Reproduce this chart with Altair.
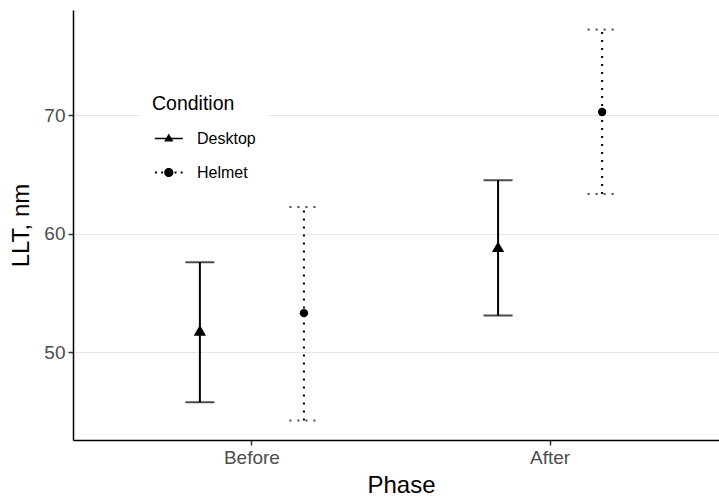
import altair as alt
import pandas as pd

phase = ["Before", "Before", "After", "After"]
condition = ["Desktop", "Helmet", "Desktop", "Helmet"]
mean = [51.85, 53.3, 58.9, 70.25]
lower = [45.8, 44.25, 53.1, 63.35]
upper = [57.6, 62.25, 64.5, 77.2]

phase_order = ["Before", "After"]
cond_order = ["Desktop", "Helmet"]
y_ticks = [50, 60, 70]

df = pd.DataFrame({"Phase": phase, "Condition": condition,
                   "mean": mean, "lower": lower, "upper": upper})

FONT = "Liberation Sans"

x_enc = alt.X("Phase:N", sort=phase_order,
              scale=alt.Scale(range=[0, 656], paddingInner=0, paddingOuter=0.1),
              axis=alt.Axis(title="Phase", labelAngle=0, grid=False))
xo_enc = alt.XOffset("Condition:N", sort=cond_order,
                     scale=alt.Scale(paddingInner=0, paddingOuter=0.433))
y_scale = alt.Scale(domain=[42.61, 78.85], nice=False, zero=False)

dash = alt.StrokeDash("Condition:N", sort=cond_order,
                      scale=alt.Scale(domain=cond_order, range=[[1, 0], [2, 6]]),
                      legend=None)

base = alt.Chart(df)

rules = base.mark_rule(color="black", strokeWidth=2).encode(
    x=x_enc, xOffset=xo_enc,
    y=alt.Y("lower:Q", scale=y_scale,
            axis=alt.Axis(title="LLT, nm", values=y_ticks, grid=True)),
    y2="upper:Q",
    strokeDash=dash,
)

caps_lo = base.mark_tick(color="black", filled=False, thickness=0, size=29,
                         strokeWidth=2).encode(
    x=x_enc, xOffset=xo_enc, y=alt.Y("lower:Q", scale=y_scale), strokeDash=dash)
caps_hi = base.mark_tick(color="black", filled=False, thickness=0, size=29,
                         strokeWidth=2).encode(
    x=x_enc, xOffset=xo_enc, y=alt.Y("upper:Q", scale=y_scale), strokeDash=dash)

points = base.mark_point(filled=True, color="black", opacity=1).encode(
    x=x_enc, xOffset=xo_enc, y=alt.Y("mean:Q", scale=y_scale),
    shape=alt.Shape("Condition:N", sort=cond_order,
                    scale=alt.Scale(domain=cond_order, range=["triangle-up", "circle"]),
                    legend=None),
    size=alt.Size("Condition:N", sort=cond_order,
                  scale=alt.Scale(domain=cond_order, range=[150, 70]), legend=None),
)

desk_sym = ("M-0.8,-0.06H1.2V0.06H-0.8Z "
            "M0.2,-0.36L0.53,0.22L-0.13,0.22Z")
helm_sym = ("M-0.79,-0.07H-0.65V0.07H-0.79Z "
            "M-0.35,-0.07H-0.21V0.07H-0.35Z "
            "M0.61,-0.07H0.75V0.07H0.61Z "
            "M1.05,-0.07H1.19V0.07H1.05Z "
            "M0.53,0A0.33,0.33 0 1,1 -0.13,0A0.33,0.33 0 1,1 0.53,0Z")

legend_src = base.mark_point(filled=True, color="black", opacity=0, size=784).encode(
    x=x_enc, xOffset=xo_enc, y=alt.Y("mean:Q", scale=y_scale),
    shape=alt.Shape("Condition:N", sort=cond_order,
                    scale=alt.Scale(domain=cond_order, range=[desk_sym, helm_sym]),
                    legend=alt.Legend(title="Condition", orient="none",
                                      legendX=67, legendY=73,
                                      fillColor="white", padding=12,
                                      symbolSize=784, symbolOpacity=1,
                                      symbolFillColor="black", symbolStrokeWidth=0,
                                      symbolStrokeColor="transparent",
                                      titleFontSize=19.5, titleFontWeight="normal",
                                      titleColor="black", titleFont=FONT,
                                      titlePadding=10,
                                      labelFontSize=16, labelColor="black",
                                      labelFont=FONT, labelOffset=17,
                                      rowPadding=12)),
)

chart = alt.layer(rules, caps_lo, caps_hi, points, legend_src).resolve_scale(
    shape="independent"
).properties(
    width=646, height=430,
    autosize=alt.AutoSizeParams(type="none"),
    padding={"left": 73, "top": 10, "right": 0, "bottom": 58},
).configure_view(stroke=None).configure_axis(
    labelFont=FONT, titleFont=FONT, labelFontSize=19, labelColor="#4d4d4d",
    titleFontSize=24, titleFontWeight="normal", titleColor="black",
    domainColor="black", domainWidth=1.5, tickColor="#333333", tickWidth=1.5,
    tickSize=5, labelPadding=3, gridColor="#e6e6e6", gridWidth=1.2,
).configure_axisX(titlePadding=6).configure_axisY(titlePadding=10)

chart.save("out.html", embed_options={"renderer": "svg", "actions": False})
